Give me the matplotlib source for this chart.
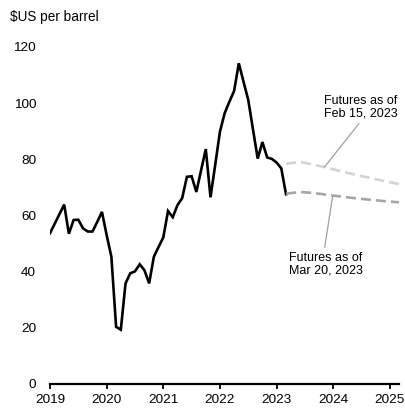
import numpy as np
import matplotlib
matplotlib.use("Agg")
import matplotlib.pyplot as plt

plt.rcParams['font.family'] = ['Liberation Sans', 'DejaVu Sans']

# monthly price, Jan 2019 - Mar 2023
price = [53.6, 57.0, 60.4, 63.8, 53.4, 58.3, 58.4, 55.3, 54.2, 54.2, 57.6, 61.2,
         52.9, 45.2, 20.2, 19.2, 35.7, 39.3, 40.0, 42.5, 40.4, 35.7, 45.2, 48.7,
         52.1, 61.5, 59.3, 63.6, 66.1, 73.7, 73.9, 68.3, 76.0, 83.6, 66.4, 78.0,
         89.8, 96.4, 100.5, 104.3, 114.2, 107.6, 101.1, 90.6, 80.2, 86.1, 80.6, 80.1,
         78.8, 76.7, 67.5]
months = 2019 + np.arange(len(price)) / 12

# futures curves (quarterly points)
fut_x = [2023.17, 2023.42, 2023.67, 2023.92, 2024.17, 2024.42, 2024.67, 2024.92, 2025.17]
fut_feb = [78.4, 79.0, 78.0, 76.8, 75.5, 74.3, 73.2, 72.1, 71.1]
fut_mar = [67.7, 68.3, 67.9, 67.2, 66.6, 66.0, 65.5, 65.0, 64.6]

years = [2019, 2020, 2021, 2022, 2023, 2024, 2025]
yticks = [0, 20, 40, 60, 80, 100, 120]

fig = plt.figure(figsize=(4.05, 4.11), dpi=100)
ax = fig.add_axes([0.1235, 0.0669, 0.8615, 0.887])

ax.plot(months, price, color='black', lw=1.9, solid_joinstyle='miter')
ax.plot(fut_x, fut_feb, color='#d4d4d4', lw=1.9, dashes=(3.8, 1.9))
ax.plot(fut_x, fut_mar, color='#a6a6a6', lw=1.9, dashes=(3.8, 1.9))

ax.set_xlim(2019, 2025.16)
ax.set_ylim(0, 130)
ax.set_xticks(years)
ax.set_xticklabels([str(y) for y in years], fontsize=9.7)
ax.set_yticks(yticks)
ax.set_yticklabels([str(v) for v in yticks], fontsize=9.7)

for s in ['top', 'right', 'left']:
    ax.spines[s].set_visible(False)
ax.spines['bottom'].set_linewidth(1.6)
ax.tick_params(axis='y', length=0, pad=10)
ax.tick_params(axis='x', direction='out', length=3.5, width=1.3, pad=4)

fig.text(10 / 405, 1 - 17 / 411, '$US per barrel', fontsize=9.8, va='center', ha='left')

# annotations
ax.text(2023.835, 98.6, 'Futures as of\nFeb 15, 2023', fontsize=9, ha='left', va='center',
        linespacing=1.05)
ax.plot([2024.45, 2023.85], [92.6, 77.3], color='#a0a0a0', lw=0.9)
ax.text(2023.22, 42.4, 'Futures as of\nMar 20, 2023', fontsize=9, ha='left', va='center',
        linespacing=1.05)
ax.plot([2023.99, 2023.85], [66.8, 48.6], color='#a0a0a0', lw=0.9)

fig.savefig('out.png', dpi=100)
